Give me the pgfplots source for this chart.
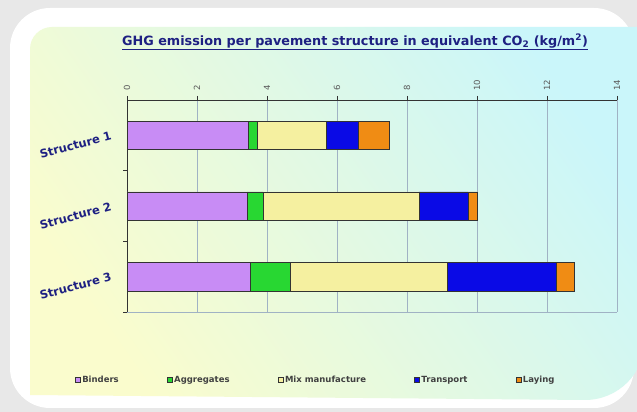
\documentclass[border=0pt]{standalone}
\usepackage{pgfplots}
\pgfplotsset{compat=1.18}
\usepackage{fontspec}
\setmainfont{DejaVu Sans}
\definecolor{bgY}{RGB}{250,252,205}
\definecolor{bgC}{RGB}{202,246,250}
\definecolor{titleblue}{RGB}{30,32,130}
\definecolor{gridc}{RGB}{160,178,196}
\definecolor{cBind}{RGB}{200,140,245}
\definecolor{cAgg}{RGB}{40,215,50}
\definecolor{cMix}{RGB}{245,240,160}
\definecolor{cTrans}{RGB}{10,10,230}
\definecolor{cLay}{RGB}{240,140,20}
\begin{document}
\begin{tikzpicture}
\useasboundingbox (0,0) rectangle (637pt,412pt);
\clip (0,0) rectangle (637pt,412pt);
\fill[gray!18] (0,0) rectangle (637pt,412pt);
\fill[white, rounded corners=40pt] (10pt,4pt) rectangle (634pt,404pt);
\shade[top color=bgC, bottom color=bgY, shading angle=-55]
  (30pt,17pt) -- (30pt,363pt) arc[start angle=180, end angle=90, radius=22pt]
  -- (645pt,385pt) -- (645pt,72pt) arc[start angle=0, end angle=-90, radius=60pt] -- cycle;
\node[text=titleblue, font=\fontsize{12.8}{14}\selectfont\bfseries] at (355pt,370pt)
  {\underline{GHG emission per pavement structure in equivalent CO\textsubscript{2} (kg/m\textsuperscript{2})}};
\begin{axis}[
  at={(127pt,100pt)}, anchor=south west,
  scale only axis, width=490pt, height=212pt,
  xbar stacked, bar width=0.4,
  xmin=0, xmax=14, ymin=0.5, ymax=3.5, y dir=reverse,
  axis x line*=top, axis y line*=left,
  axis line style={draw=black!80, line width=0.6pt},
  xtick={0,2,...,14},
  xticklabel style={rotate=90, anchor=west, yshift=0pt, xshift=2pt, font=\fontsize{8.5}{9}\selectfont, text=black!65},
  /pgf/number format/assume math mode=true,
  xmajorgrids, major grid style={draw=gridc, line width=0.5pt},
  tick align=outside, major tick length=4pt,
  x tick style={draw=black!80},
  y tick style={draw=none},
  ytick={1,2,3},
  yticklabels={Structure 1,Structure 2,Structure 3},
  yticklabel style={rotate=15, anchor=east, xshift=-8pt, yshift=3pt, font=\fontsize{11.5}{13}\selectfont\bfseries, text=titleblue},
  legend columns=5,
  legend style={at={(axis description cs:0.385,-0.32)}, anchor=center, draw=none, fill=none,
    font=\fontsize{8.5}{9}\selectfont\bfseries, text=black!75,
    /tikz/every even column/.append style={column sep=46pt}},
  legend image code/.code={\draw[#1,draw=black!80] (0pt,-2.5pt) rectangle (5pt,2.5pt);},
  clip=false,
]
\addplot[fill=cBind, draw=black!80] coordinates {(3.46,1) (3.43,2) (3.51,3)};
\addplot[fill=cAgg, draw=black!80] coordinates {(0.25,1) (0.46,2) (1.15,3)};
\addplot[fill=cMix, draw=black!80] coordinates {(1.98,1) (4.45,2) (4.48,3)};
\addplot[fill=cTrans, draw=black!80] coordinates {(0.91,1) (1.40,2) (3.12,3)};
\addplot[fill=cLay, draw=black!80] coordinates {(0.89,1) (0.26,2) (0.51,3)};
\legend{Binders,Aggregates,Mix manufacture,Transport,Laying}
\draw[gridc, line width=0.5pt] (axis cs:0,3.5) -- (axis cs:14,3.5);
\draw[black!80] (axis cs:0,1.5) -- ++(-4pt,0pt);
\draw[black!80] (axis cs:0,2.5) -- ++(-4pt,0pt);
\draw[black!80] (axis cs:0,3.5) -- ++(-4pt,0pt);
\end{axis}
\end{tikzpicture}
\end{document}
